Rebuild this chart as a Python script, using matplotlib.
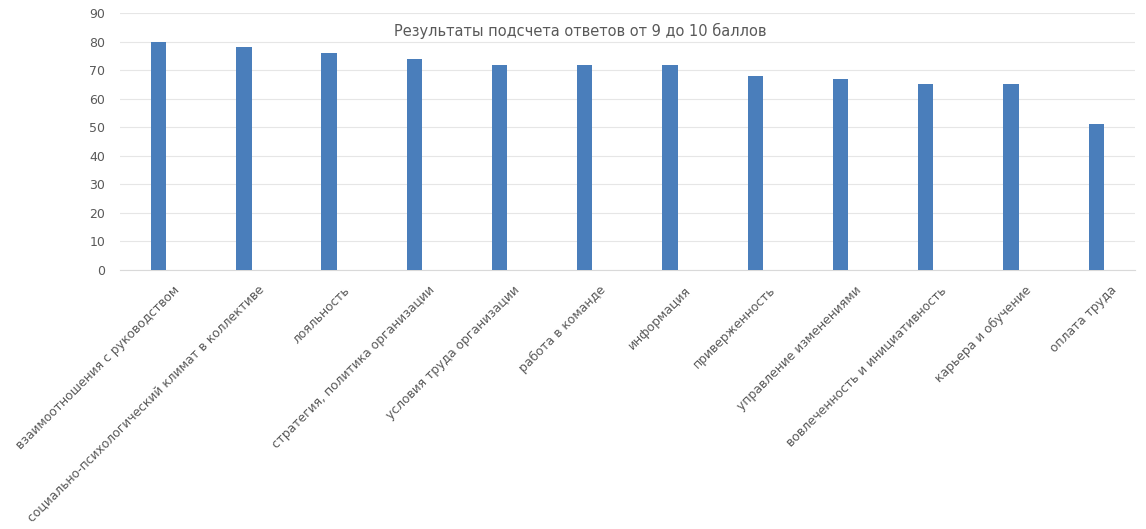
import matplotlib.pyplot as plt
import matplotlib.transforms as mtransforms
import numpy as np

categories = [
    "взаимоотношения с руководством",
    "социально-психологический климат в коллективе",
    "лояльность",
    "стратегия, политика организации",
    "условия труда организации",
    "работа в команде",
    "информация",
    "приверженность",
    "управление изменениями",
    "вовлеченность и инициативность",
    "карьера и обучение",
    "оплата труда",
]
values = [80, 78, 76, 74, 72, 72, 72, 68, 67, 65, 65, 51]
yticks = [0, 10, 20, 30, 40, 50, 60, 70, 80, 90]

fig = plt.figure(figsize=(11.46, 5.29), dpi=100)
ax = fig.add_axes([0.105, 0.49, 0.885, 0.485])

x = np.arange(len(categories))
ax.bar(x, values, width=0.18, color="#4a7ebb", zorder=3)

ax.set_ylim(0, 90)
ax.set_xlim(-0.45, len(categories) - 0.55)
ax.set_yticks(yticks)
ax.yaxis.grid(True, color="#e6e6e6", linewidth=0.8, zorder=0)
for s in ["top", "right", "left"]:
    ax.spines[s].set_visible(False)
ax.spines["bottom"].set_color("#d9d9d9")
ax.tick_params(axis="both", length=0, colors="#595959", labelsize=9)
ax.tick_params(axis="y", pad=11)
ax.set_xticks(x)
ax.set_xticklabels(categories, rotation=45, ha="right", rotation_mode="anchor",
                   fontsize=8.9, color="#595959")
ax.tick_params(axis="x", pad=10)
# shift tick labels a little to the right, like the original
offset = mtransforms.ScaledTranslation(0.14, 0, fig.dpi_scale_trans)
for lbl in ax.get_xticklabels():
    lbl.set_transform(lbl.get_transform() + offset)

ax.text(0.453, 0.93, "Результаты подсчета ответов от 9 до 10 баллов",
        transform=ax.transAxes, ha="center", va="center", fontsize=10.5, color="#595959")

fig.savefig("out.png", dpi=100)
